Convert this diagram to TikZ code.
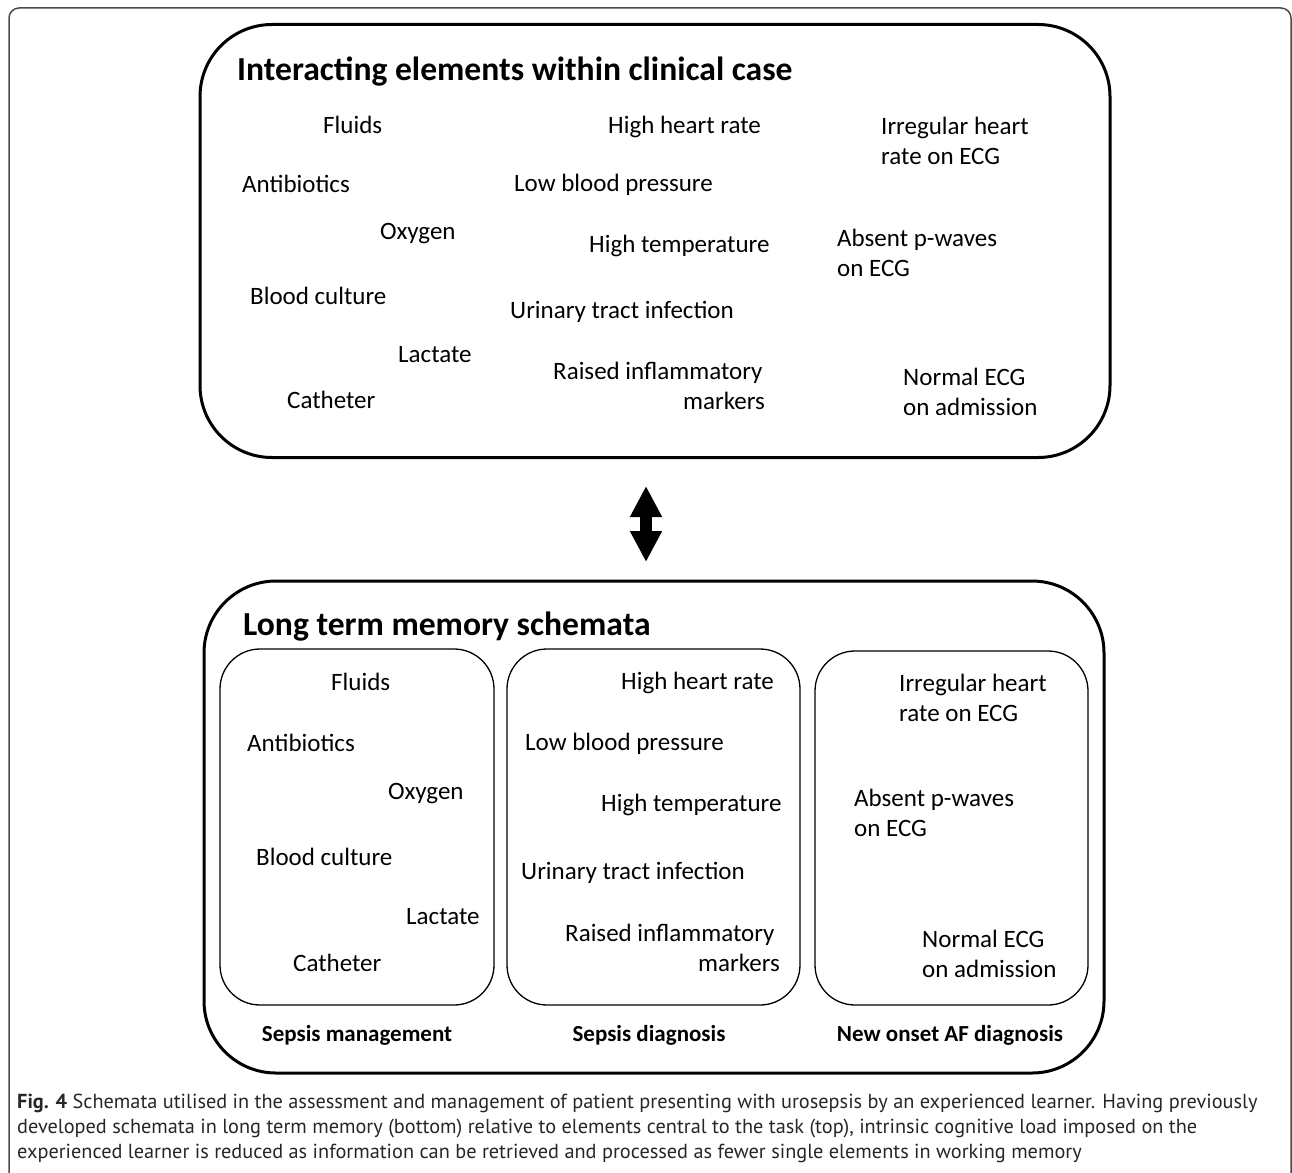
\documentclass[tikz,border=0pt]{standalone}
\usepackage{fontspec}
\setmainfont{Carlito}
\newfontfamily\capfont{PT Sans}
\usetikzlibrary{arrows.meta}
\begin{document}
\begin{tikzpicture}[x=1pt,y=-1pt,
 txt/.style={anchor=base west, inner sep=0pt, font=\fontsize{25}{30}\selectfont},
 txtr/.style={anchor=base east, inner sep=0pt, font=\fontsize{25}{30}\selectfont},
 ttl/.style={anchor=base west, inner sep=0pt, font=\fontsize{33.6}{40}\selectfont\bfseries},
 lab/.style={anchor=base, inner sep=0pt, font=\fontsize{23}{27}\selectfont\bfseries},
 captxt/.style={anchor=base west, inner sep=0pt, font=\fontsize{20.3}{24}\capfont\color{black!85}},
 bigbox/.style={draw, line width=3pt, rounded corners=72pt, inner sep=0pt},
 inbox/.style={draw, line width=1.3pt, rounded corners=40pt, inner sep=0pt},
 outerframe/.style={draw=black!70, line width=1.5pt, rounded corners=10pt},
 dblarrow/.style={line width=12pt, {Triangle[length=31pt,width=30pt]}-{Triangle[length=31pt,width=30pt]}},
]
\useasboundingbox (0,0) rectangle (1292,1172);
\draw[outerframe] (9,1185) -- (9,8) -- (1291,8) -- (1291,1185);

% top box
\node[bigbox, minimum width=910pt, minimum height=433pt] (top) at (655,241) {};
\node[ttl] (ttop) at (237,80) {Interacting elements within clinical case};
\node[txt] (t1) at (323,133) {Fluids};
\node[txt] (t2) at (242,192) {Antibiotics};
\node[txt] (t3) at (380,239) {Oxygen};
\node[txt] (t4) at (250,304) {Blood culture};
\node[txt] (t5) at (398,362) {Lactate};
\node[txt] (t6) at (287,408) {Catheter};
\node[txt] (t7) at (608,133) {High heart rate};
\node[txt] (t8) at (514,191) {Low blood pressure};
\node[txt] (t9) at (589,252) {High temperature};
\node[txt] (t10) at (510,318) {Urinary tract infection};
\node[txt] (t11a) at (553,379) {Raised inflammatory};
\node[txtr] (t11b) at (765,409) {markers};
\node[txt] (t12a) at (881,134) {Irregular heart};
\node[txt] (t12b) at (881,164) {rate on ECG};
\node[txt] (t13a) at (837,246) {Absent p-waves};
\node[txt] (t13b) at (837,276) {on ECG};
\node[txt] (t14a) at (903,385) {Normal ECG};
\node[txt] (t14b) at (903,415) {on admission};

% arrow
\coordinate (aup) at (646,486);
\coordinate (adn) at (646,562);
\draw[dblarrow] (aup) -- (adn);

% bottom box
\node[bigbox, minimum width=900pt, minimum height=492pt] (bot) at (654,827) {};
\node[ttl] (tbot) at (243,635) {Long term memory schemata};

\node[inbox, minimum width=274pt, minimum height=356pt] (b1) at (357,827) {};
\node[inbox, minimum width=293pt, minimum height=356pt] (b2) at (653.5,827) {};
\node[inbox, minimum width=273pt, minimum height=354pt] (b3) at (951.5,828) {};

\node[txt] (s1) at (331,690) {Fluids};
\node[txt] (s2) at (247,751) {Antibiotics};
\node[txt] (s3) at (388,799) {Oxygen};
\node[txt] (s4) at (256,865) {Blood culture};
\node[txt] (s5) at (406,924) {Lactate};
\node[txt] (s6) at (293,971) {Catheter};
\node[txt] (s7) at (621,689) {High heart rate};
\node[txt] (s8) at (525,750) {Low blood pressure};
\node[txt] (s9) at (601,811) {High temperature};
\node[txt] (s10) at (521,879) {Urinary tract infection};
\node[txt] (s11a) at (565,941) {Raised inflammatory};
\node[txtr] (s11b) at (780,971) {markers};
\node[txt] (s12a) at (899,691) {Irregular heart};
\node[txt] (s12b) at (899,721) {rate on ECG};
\node[txt] (s13a) at (854,806) {Absent p-waves};
\node[txt] (s13b) at (854,836) {on ECG};
\node[txt] (s14a) at (922,947) {Normal ECG};
\node[txt] (s14b) at (922,977) {on admission};

\node[lab] (l1) at (357,1041) {Sepsis management};
\node[lab] (l2) at (649,1041) {Sepsis diagnosis};
\node[lab] (l3) at (950,1041) {New onset AF diagnosis};

% caption
\node[captxt] (c1) at (17,1108) {\textbf{Fig. 4} Schemata utilised in the assessment and management of patient presenting with urosepsis by an experienced learner. Having previously};
\node[captxt] (c2) at (17,1133) {developed schemata in long term memory (bottom) relative to elements central to the task (top), intrinsic cognitive load imposed on the};
\node[captxt] (c3) at (17,1158) {experienced learner is reduced as information can be retrieved and processed as fewer single elements in working memory};
\end{tikzpicture}
\end{document}
